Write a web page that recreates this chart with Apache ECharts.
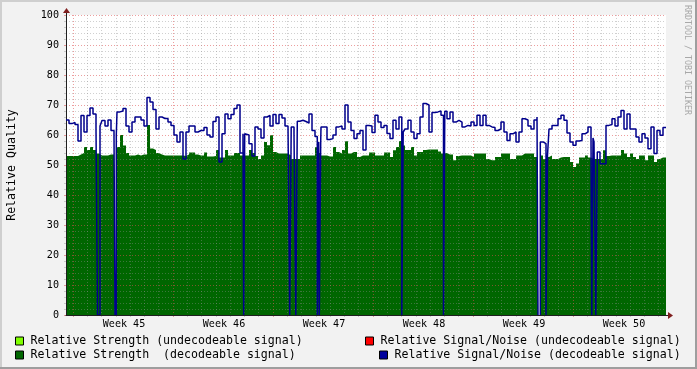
<!DOCTYPE html>
<html><head><meta charset="utf-8">
<script src="https://cdn.jsdelivr.net/npm/echarts@6/dist/echarts.min.js"></script>
<style>html,body{margin:0;padding:0;background:#f2f2f2}#c{width:697px;height:369px}</style>
</head><body><div id="c"></div>
<script>
// ---- data (x in days since start of graph, 0..42) ----
const weekLabels = ['Week 45','Week 46','Week 47','Week 48','Week 49','Week 50'];
const sampleDays = 0.21; // one sample every 0.21 day
const snrDecodeable = [
65,63.8,64.2,63.5,58,66.5,61,66.5,69,67,
62,63,64.8,63,65,61.5,60,67.7,68,68.8,
63,61,64.3,66,66,65,63,72.5,71,68.5,
62,66,65.5,65.5,64.3,63.2,60,57.7,61,52,
61,63,63,61,61.5,61.5,62.5,60,59.3,64.5,
66,51,60.4,67,65.4,66.8,68.8,70,54,60.4,
60,57.1,53,62.7,62,59,66,66.5,63,66.8,
63.8,66.8,65.7,63,62.7,62.7,60.4,64.6,64.9,64.5,
64,67,61.5,59.5,57.7,62.7,62.7,58.5,58.8,60,
62.7,63,62,70,64.3,61.5,58.8,60.4,61.5,55,
63.2,63,60.8,66.6,64.3,62.5,63.2,60.5,58.8,64.9,
62,66,61,62,64.9,61,58.8,60.4,66,70.5,
70,61,67.5,67.7,68,66.6,67.9,65.4,67.7,64.3,
64.9,64.3,62.7,63.2,63,64.3,63.2,66.6,63.2,66.6,
63.2,62.7,62.5,61.5,62,64.3,61,58.2,60.4,61,
57.7,61,65.4,65,63,62,65,66,57.7,57.1,
53.2,62,63.2,63.2,65.4,66.6,64.9,60.7,57.7,56.6,
58,58.2,60.4,61,62.7,59,57.7,54.3,50.4,50.4,
63.2,63.5,65.4,63,66,68.2,62,67,62,62,
59.3,57.7,60.4,59,55.4,62.7,53.8,61.5,59.9,62.5
];
const strengthDecodeable = [
53,53,53,53,53.5,54,56,55,56,55,
53.8,53.2,53.2,53.2,53.5,53.5,53,56,60,56.5,
54,53.2,53.2,53.5,53.2,53.5,53.5,63.3,55.5,55,
54,53.5,53.2,53.2,53.2,53.2,53.2,53.2,53.2,53,
53.5,54.2,54.2,53.5,53.2,53.2,54.2,52.8,52.8,53,
55,52.5,52.5,55,53.2,53.2,54,54,53.2,53.2,
53.2,55,54,53,52,53.2,57.7,56.6,59.9,54.3,
53.8,53.8,53.8,53.8,53.2,52,52,52,53.2,53.2,
53.2,53.2,53.2,56,54,53.2,53.2,52.8,52.8,56,
54.3,53.8,55,57.9,53.8,54.3,54.3,52.7,53.2,53.2,
53.2,54.2,54.2,53.2,53.2,53.2,54.2,54.2,52.7,54.9,
56,58,56.5,55,55,56,53.2,54.3,54.3,55,
55.2,55.2,55.2,55.2,54.5,53.8,54,53.5,53.5,51.6,
53,53.2,53.2,53.2,53.2,52.7,53.8,53.8,53.8,53.8,
52,51.6,51.6,52.7,52.7,53.8,53.8,53.8,52,52,
53.2,53.2,53.8,53.8,53.8,53.8,52.7,52.7,53.2,52,
52.7,53.2,52,52,52.5,52.7,52.7,52.7,51,49.3,
50.5,52.5,52.5,53.2,52.5,52,52,52,52,54.9,
53,53.2,53.2,53.2,53.2,55,53.8,52.7,53.8,52.7,
52,53.2,53.2,51.6,53.2,53.2,51,52,52.5,52.5
];
const strengthUndecodeable = [];
const snrUndecodeable = [];
// short drop-outs of the S/N value to 0: [start day, end day]
const snrDropouts = [
[2.205,2.38],[12.439,12.509],[15.659,15.764],[16.086,16.191],
[17.591,17.689],[17.731,17.829],[23.506,23.604],[26.425,26.516],
[33.6,33.705],[36.806,36.89],[37.086,37.191]
];
// periods without data: [start day, end day]
const dataGaps = [[3.43,3.521],[33.04,33.201]];

// ---- build step data ----
function buildSeries(values, drops, gaps, isLine) {
  const cuts = [];
  for (let i = 0; i <= values.length; i++) cuts.push(+(i * sampleDays).toFixed(6));
  drops.forEach(d => cuts.push(d[0], d[1]));
  gaps.forEach(g => cuts.push(g[0], g[1]));
  const ts = Array.from(new Set(cuts)).sort((a, b) => a - b);
  const within = (list, t) => list.some(r => t >= r[0] && t < r[1]);
  const idx = t => Math.min(values.length - 1, Math.floor(t / sampleDays + 1e-6));
  const out = [];
  ts.forEach((t, k) => {
    const prevGap = k > 0 && within(gaps, ts[k - 1]);
    if (within(gaps, t)) {
      if (!prevGap) {
        out.push([t, isLine ? 0 : (out.length ? out[out.length - 1][1] : values[idx(t)])]);
        out.push([t + 1e-4, null]);
      }
      return;
    }
    const v = (isLine && within(drops, t)) ? 0 : values[idx(t)];
    if (prevGap && isLine) { out.push([t, 0]); out.push([t + 1e-4, v]); }
    else out.push([t, v]);
  });
  return out;
}

const FONT = 'DejaVu Sans Mono';
const GRID_MINOR = 'rgba(143,143,143,0.42)';
const GRID_MAJOR = 'rgba(222,79,79,0.55)';
const DASH = [1, 2];
const dayCats = Array.from({length: 42}, (_, i) => String(i));
const N1 = 'Relative Strength (undecodeable signal)';
const N2 = 'Relative Strength  (decodeable signal)';
const N3 = 'Relative Signal/Noise (undecodeable signal)';
const N4 = 'Relative Signal/Noise (decodeable signal)';
const legendBase = {
  orient: 'horizontal', itemWidth: 8, itemHeight: 8, padding: 0, selectedMode: false,
  textStyle: {fontFamily: FONT, fontSize: 11.6, color: '#000', lineHeight: 12, padding: [0, 0, 0, 2]},
  itemStyle: {borderColor: '#000', borderWidth: 1}
};

const chart = echarts.init(document.getElementById('c'), null, {renderer: 'canvas'});
chart.setOption({
  backgroundColor: '#f2f2f2',
  animation: false,
  grid: [
    {left: 66, top: 15, width: 600, height: 300, show: true, backgroundColor: '#fff', borderWidth: 0, outerBoundsMode: 'none', containLabel: false},
    {left: 73, top: 15, width: 600 * 41 / 42, height: 300, outerBoundsMode: 'none', containLabel: false},
    {left: 74, top: 15, width: 600, height: 300, outerBoundsMode: 'none', containLabel: false}
  ],
  xAxis: [
    {gridIndex: 0, type: 'value', min: 0, max: 42, z: 5,
     axisLine: {show: true, onZero: false, lineStyle: {color: '#1f1f1f', width: 1}},
     axisTick: {show: false}, axisLabel: {show: false}, splitLine: {show: false}},
    {gridIndex: 1, type: 'category', data: dayCats, boundaryGap: false, position: 'bottom', z: 3,
     axisLine: {show: false}, axisLabel: {show: false},
     axisTick: {show: true, length: 2, interval: (i) => i % 7 !== 0, lineStyle: {color: GRID_MINOR}},
     splitLine: {show: true, interval: (i) => i % 7 !== 0, lineStyle: {color: GRID_MINOR, type: DASH, width: 1}}},
    {gridIndex: 1, type: 'category', data: dayCats, boundaryGap: false, position: 'bottom', z: 3,
     axisLine: {show: false}, axisLabel: {show: false},
     axisTick: {show: true, length: 2, interval: (i) => i % 7 === 0, lineStyle: {color: GRID_MAJOR}},
     splitLine: {show: true, interval: (i) => i % 7 === 0, lineStyle: {color: GRID_MAJOR, type: DASH, width: 1}}},
    {gridIndex: 2, type: 'category', data: weekLabels, boundaryGap: true, position: 'bottom',
     axisLine: {show: false}, axisTick: {show: false}, splitLine: {show: false},
     axisLabel: {show: true, interval: 0, margin: 4, color: '#000', fontFamily: FONT, fontSize: 10.1}}
  ],
  yAxis: [
    {gridIndex: 0, type: 'value', min: 0, max: 100, interval: 10, z: 3,
     axisLine: {show: true, lineStyle: {color: '#1f1f1f'}},
     axisTick: {show: true, length: 2, lineStyle: {color: GRID_MAJOR}},
     minorTick: {show: true, splitNumber: 5, length: 2, lineStyle: {color: GRID_MINOR}},
     splitLine: {show: true, lineStyle: {color: GRID_MAJOR, type: DASH}},
     minorSplitLine: {show: true, lineStyle: {color: GRID_MINOR, type: DASH}},
     axisLabel: {color: '#000', fontFamily: FONT, fontSize: 10.1, margin: 7},
     name: 'Relative Quality', nameLocation: 'middle', nameGap: 48,
     nameTextStyle: {fontFamily: FONT, fontSize: 11.6, color: '#000'}},
    {gridIndex: 1, type: 'value', show: false, min: 0, max: 1},
    {gridIndex: 2, type: 'value', show: false, min: 0, max: 1}
  ],
  legend: [
    Object.assign({}, legendBase, {left: 15, top: 335, data: [{name: N1, icon: 'rect'}]}),
    Object.assign({}, legendBase, {left: 15, top: 349, data: [{name: N2, icon: 'rect'}]}),
    Object.assign({}, legendBase, {left: 365, top: 335, data: [{name: N3, icon: 'rect'}]}),
    Object.assign({}, legendBase, {left: 379, top: 349, data: [{name: N4, icon: 'rect'}]})
  ],
  series: [
    {name: N2, type: 'line', xAxisIndex: 0, yAxisIndex: 0, step: 'end', symbol: 'none', silent: true, z: 2,
     data: buildSeries(strengthDecodeable, [], dataGaps, false),
     lineStyle: {width: 0, color: '#006600'}, itemStyle: {color: '#006600'},
     areaStyle: {color: '#006600', opacity: 1}},
    {name: N1, type: 'line', xAxisIndex: 0, yAxisIndex: 0, symbol: 'none', z: 2,
     data: strengthUndecodeable, itemStyle: {color: '#80ff00'}, lineStyle: {color: '#80ff00'}},
    {name: N3, type: 'line', xAxisIndex: 0, yAxisIndex: 0, symbol: 'none', z: 4,
     data: snrUndecodeable, itemStyle: {color: '#ff0000'}, lineStyle: {color: '#ff0000'}},
    {name: N4, type: 'line', xAxisIndex: 0, yAxisIndex: 0, step: 'end', symbol: 'none', silent: true, z: 4,
     data: buildSeries(snrDecodeable, snrDropouts, dataGaps, true),
     lineStyle: {width: 1.5, color: '#00008c'}, itemStyle: {color: '#00009c'}}
  ],
  graphic: [
    {type: 'rect', silent: true, shape: {x: 0, y: 0, width: 697, height: 2}, style: {fill: '#cfcfcf'}},
    {type: 'rect', silent: true, shape: {x: 0, y: 0, width: 2, height: 369}, style: {fill: '#cfcfcf'}},
    {type: 'rect', silent: true, shape: {x: 0, y: 367, width: 697, height: 2}, style: {fill: '#9e9e9e'}},
    {type: 'rect', silent: true, shape: {x: 695, y: 0, width: 2, height: 369}, style: {fill: '#9e9e9e'}},
    {type: 'line', silent: true, shape: {x1: 666, y1: 315.5, x2: 670, y2: 315.5}, style: {stroke: '#1f1f1f', lineWidth: 1}},
    {type: 'polygon', silent: true, shape: {points: [[668, 312], [668, 319], [673, 315.5]]}, style: {fill: '#801f1f'}},
    {type: 'line', silent: true, shape: {x1: 66.5, y1: 15, x2: 66.5, y2: 11}, style: {stroke: '#1f1f1f', lineWidth: 1}},
    {type: 'polygon', silent: true, shape: {points: [[63, 13], [70, 13], [66.5, 8]]}, style: {fill: '#801f1f'}},
    {type: 'text', silent: true, x: 687, y: 5, rotation: -Math.PI / 2,
     style: {text: 'RRDTOOL / TOBI OETIKER', fontFamily: FONT, fontSize: 8.3, fill: '#a8a8a8', align: 'left', verticalAlign: 'middle'}}
  ]
});
</script></body></html>
